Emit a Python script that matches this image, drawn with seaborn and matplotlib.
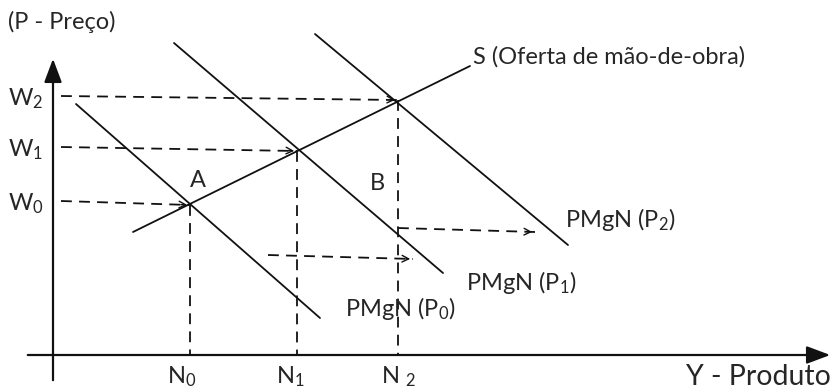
import numpy as np
import pandas as pd
import matplotlib.pyplot as plt
import seaborn as sns

# diagram drawn in image pixel units (y grows downward)
curve_names = ["S", "P0", "P1", "P2"]
curve_x0 = [133, 76, 174, 315]
curve_y0 = [232, 104, 43, 34]
curve_x1 = [470, 320, 443, 568]
curve_y1 = [66, 318, 273, 245]

eq_labels = ["0", "1", "2"]
eq_x = [190, 297, 398]
eq_y = [205, 151, 100]

x_axis_y = 355
y_axis_x = 53

shift_names = ["low", "high"]
shift_x0 = [268, 398]
shift_y0 = [255, 228]
shift_x1 = [413, 535]
shift_y1 = [259, 232]

sns.set_theme(style="white")
plt.rcParams['font.family'] = ['Lato', 'DejaVu Sans']
plt.rcParams['mathtext.fontset'] = 'custom'
plt.rcParams['mathtext.rm'] = 'Lato'
plt.rcParams['mathtext.default'] = 'regular'

fig = plt.figure(figsize=(8.38, 3.92), dpi=100)
ax = fig.add_axes([0, 0, 1, 1])
ink = "#111111"


def segments(names, x0, y0, x1, y1):
    return pd.DataFrame({
        "name": np.repeat(names, 2),
        "x": np.ravel(np.column_stack([x0, x1])),
        "y": np.ravel(np.column_stack([y0, y1])),
    })


def draw(df, dashed):
    n = len(ax.lines)
    sns.lineplot(data=df, x="x", y="y", units="name", estimator=None,
                 color=ink, lw=1.3, sort=False, ax=ax)
    if dashed:
        for line in ax.lines[n:]:
            line.set_dashes([6, 4])


draw(segments(curve_names, curve_x0, curve_y0, curve_x1, curve_y1), False)

# dashed guides from equilibria to the axes
names = ["h" + l for l in eq_labels] + ["v" + l for l in eq_labels]
gx0 = [y_axis_x + 8] * 3 + eq_x
gy0 = [y - 4 for y in eq_y] + eq_y
gx1 = eq_x + eq_x
gy1 = eq_y + [x_axis_y] * 3
draw(segments(names, gx0, gy0, gx1, gy1), True)

for i in range(len(eq_labels)):
    ax.annotate("", xy=(eq_x[i], eq_y[i]), xytext=(eq_x[i] - 12, eq_y[i] - 0.5),
                arrowprops=dict(arrowstyle="->", lw=1.0, color=ink))

# shift arrows
draw(segments(shift_names, shift_x0, shift_y0, shift_x1, shift_y1), True)
for i in range(len(shift_names)):
    ax.annotate("", xy=(shift_x1[i], shift_y1[i]), xytext=(shift_x1[i] - 10, shift_y1[i] - 0.3),
                arrowprops=dict(arrowstyle="->", lw=1.0, color=ink))

# axes with arrows
ax.annotate("", xy=(833, x_axis_y), xytext=(25, x_axis_y),
            arrowprops=dict(arrowstyle="-|>,head_length=1.2,head_width=0.45", lw=1.6, color=ink))
ax.annotate("", xy=(y_axis_x, 56), xytext=(y_axis_x, 383),
            arrowprops=dict(arrowstyle="-|>,head_length=1.2,head_width=0.45", lw=1.6, color=ink))

fs = 17
ax.text(8, 22, "(P - Preço)", fontsize=fs, va="center", ha="left")
for i, lab in enumerate(eq_labels):
    ax.text(8, eq_y[i] - 1, "W$_{%s}$" % lab, fontsize=fs, va="center", ha="left")
ax.text(167, 377, "N$_{0}$", fontsize=fs, va="center", ha="left")
ax.text(276, 377, "N$_{1}$", fontsize=fs, va="center", ha="left")
ax.text(381, 377, "N $_{2}$", fontsize=fs, va="center", ha="left")
ax.text(198, 180, "A", fontsize=fs, va="center", ha="center")
ax.text(377, 183, "B", fontsize=fs, va="center", ha="center")
ax.text(473, 57, "S (Oferta de mão-de-obra)", fontsize=fs, va="center", ha="left")
ax.text(565, 219, "PMgN (P$_{2}$)", fontsize=fs, va="center", ha="left")
ax.text(466, 283, "PMgN (P$_{1}$)", fontsize=fs, va="center", ha="left")
ax.text(345, 309, "PMgN (P$_{0}$)", fontsize=fs, va="center", ha="left")
ax.text(831, 377, "Y - Produto", fontsize=20.5, va="center", ha="right")

ax.set_xlim(0, 838)
ax.set_ylim(392, 0)
ax.set_axis_off()
if ax.get_legend() is not None:
    ax.get_legend().remove()

fig.savefig("out.png", dpi=100)
